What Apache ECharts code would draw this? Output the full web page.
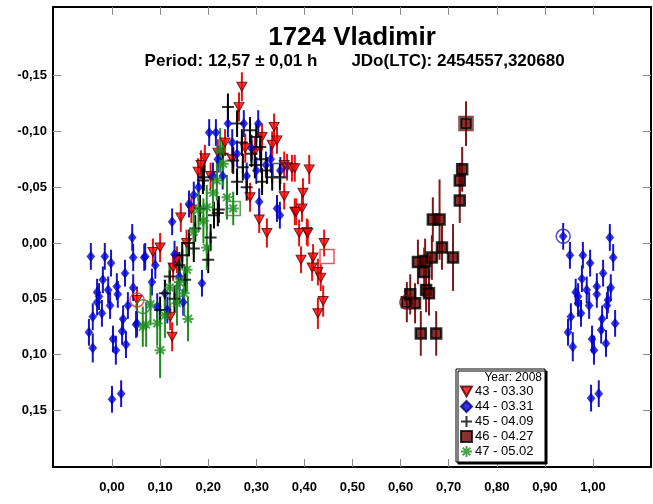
<!DOCTYPE html>
<html>
<head>
<meta charset="utf-8">
<script src="https://cdn.jsdelivr.net/npm/echarts@6/dist/echarts.min.js"></script>
<style>
  html, body { margin: 0; background: #fff; }
  #chart { width: 653px; height: 504px; }
</style>
</head>
<body>
<div id="chart"></div>
<script>
// tick labels
const xTicks = [0, 0.1, 0.2, 0.3, 0.4, 0.5, 0.6, 0.7, 0.8, 0.9, 1.0]
const yTicks = [-0.15, -0.10, -0.05, 0, 0.05, 0.10, 0.15]

// [phase, mag, error]
const s43 = [ // 03.30, red
  [0.052, 0.051, 0.012], [0.085, 0.008, 0.012], [0.100, 0.004, 0.013], [0.121, 0.066, 0.012],
  [0.125, 0.084, 0.013], [0.127, 0.022, 0.012], [0.135, 0.015, 0.012], [0.143, -0.023, 0.013],
  [0.155, 0.000, 0.012], [0.165, -0.030, 0.012], [0.179, -0.064, 0.012], [0.185, -0.070, 0.013],
  [0.193, -0.076, 0.012], [0.205, -0.060, 0.012], [0.220, -0.081, 0.012], [0.235, -0.090, 0.012],
  [0.250, -0.075, 0.012], [0.264, -0.122, 0.013], [0.270, -0.140, 0.013], [0.277, -0.085, 0.013],
  [0.287, -0.041, 0.013], [0.297, -0.082, 0.012], [0.306, -0.021, 0.012], [0.312, -0.095, 0.012],
  [0.322, -0.009, 0.013], [0.333, -0.088, 0.012], [0.337, -0.104, 0.012], [0.343, -0.092, 0.012],
  [0.358, -0.042, 0.012], [0.358, -0.070, 0.012], [0.364, -0.068, 0.012], [0.374, -0.067, 0.012],
  [0.380, -0.067, 0.012], [0.380, -0.028, 0.012], [0.383, -0.028, 0.012], [0.389, -0.009, 0.012],
  [0.393, 0.015, 0.012], [0.395, -0.031, 0.012], [0.397, -0.045, 0.013], [0.405, -0.010, 0.012],
  [0.407, -0.009, 0.012], [0.410, -0.066, 0.013], [0.416, 0.022, 0.012], [0.418, 0.013, 0.012],
  [0.428, 0.026, 0.012], [0.434, 0.031, 0.012], [0.428, 0.063, 0.014], [0.439, 0.052, 0.014],
  [0.441, 0.000, 0.012]
]
const s44 = [ // 03.31, blue
  [-0.048, 0.080, 0.012], [-0.044, 0.012, 0.012], [-0.040, 0.066, 0.012], [-0.040, 0.094, 0.013],
  [-0.031, 0.044, 0.012], [-0.031, 0.053, 0.012], [-0.027, 0.048, 0.012], [-0.021, 0.063, 0.012],
  [-0.019, 0.033, 0.012], [-0.015, 0.012, 0.012], [-0.008, 0.042, 0.012], [-0.004, 0.056, 0.012],
  [-0.002, 0.018, 0.012], [0.000, 0.140, 0.012], [0.002, 0.086, 0.012], [0.008, 0.096, 0.013],
  [0.010, 0.039, 0.012], [0.012, 0.046, 0.012], [0.019, 0.135, 0.012], [0.021, 0.079, 0.012],
  [0.023, 0.068, 0.012], [0.027, 0.027, 0.012], [0.029, 0.091, 0.012], [0.033, 0.056, 0.012],
  [0.042, -0.005, 0.012], [0.044, 0.013, 0.012], [0.044, 0.040, 0.012], [0.050, 0.073, 0.012],
  [0.052, 0.072, 0.012], [0.067, 0.013, 0.012], [0.069, 0.012, 0.012], [0.083, 0.035, 0.012],
  [0.090, 0.020, 0.012], [0.094, 0.057, 0.012], [0.110, 0.045, 0.012], [0.115, 0.060, 0.012],
  [0.125, -0.019, 0.012], [0.130, 0.010, 0.012], [0.140, 0.030, 0.012], [0.148, 0.053, 0.012],
  [0.160, -0.035, 0.012], [0.170, -0.043, 0.012], [0.180, -0.050, 0.012], [0.187, 0.036, 0.012],
  [0.202, -0.099, 0.012], [0.210, -0.060, 0.012], [0.216, -0.099, 0.012], [0.220, -0.075, 0.012],
  [0.230, -0.060, 0.012], [0.241, -0.107, 0.012], [0.250, -0.090, 0.012], [0.260, -0.080, 0.012],
  [0.274, -0.107, 0.012], [0.280, -0.060, 0.012], [0.290, -0.085, 0.012], [0.300, -0.065, 0.012],
  [0.304, -0.107, 0.012], [0.306, -0.037, 0.012], [0.320, -0.070, 0.012], [0.330, -0.075, 0.012],
  [0.343, -0.031, 0.012], [0.349, -0.025, 0.012], [0.350, -0.065, 0.012],
  [0.938, -0.006, 0.012], [0.948, 0.080, 0.012], [0.952, 0.011, 0.012], [0.954, 0.066, 0.012],
  [0.958, 0.093, 0.013], [0.964, 0.044, 0.012], [0.969, 0.048, 0.012], [0.969, 0.054, 0.012],
  [0.975, 0.063, 0.012], [0.977, 0.032, 0.012], [0.979, 0.011, 0.012], [0.987, 0.042, 0.012],
  [0.992, 0.056, 0.012], [0.994, 0.018, 0.012], [0.996, 0.139, 0.012], [0.998, 0.086, 0.012],
  [1.002, 0.096, 0.013], [1.008, 0.039, 0.012], [1.008, 0.046, 0.012], [1.012, 0.135, 0.012],
  [1.017, 0.078, 0.012], [1.019, 0.068, 0.012], [1.021, 0.027, 0.012], [1.027, 0.090, 0.012],
  [1.029, 0.056, 0.012], [1.031, 0.051, 0.012], [1.035, -0.005, 0.012], [1.037, 0.040, 0.012],
  [1.042, 0.013, 0.012], [1.046, 0.072, 0.012]
]
const s45 = [ // 04.09, black
  [0.100, 0.060, 0.012], [0.110, 0.045, 0.012], [0.120, 0.030, 0.012], [0.130, 0.050, 0.012],
  [0.140, 0.020, 0.012], [0.146, 0.011, 0.012], [0.152, 0.033, 0.012], [0.160, 0.000, 0.012],
  [0.170, 0.005, 0.012], [0.173, -0.013, 0.012], [0.183, -0.031, 0.012], [0.189, -0.056, 0.012],
  [0.191, -0.059, 0.012], [0.200, 0.015, 0.012], [0.205, -0.005, 0.012], [0.212, -0.025, 0.012],
  [0.220, -0.027, 0.012], [0.222, -0.030, 0.012], [0.230, -0.080, 0.012], [0.241, -0.122, 0.012],
  [0.252, -0.074, 0.012], [0.260, -0.107, 0.012], [0.260, -0.055, 0.012], [0.270, -0.090, 0.012],
  [0.272, -0.068, 0.012], [0.280, -0.050, 0.012], [0.287, -0.101, 0.012], [0.290, -0.080, 0.012],
  [0.297, -0.070, 0.012], [0.300, -0.095, 0.012], [0.308, -0.086, 0.012], [0.310, -0.075, 0.012],
  [0.312, -0.055, 0.012], [0.322, -0.065, 0.012], [0.333, -0.059, 0.012], [0.349, -0.059, 0.012]
]
const s46 = [ // 04.27, dark red
  [0.613, 0.053, 0.018], [0.620, 0.046, 0.018], [0.630, 0.054, 0.018], [0.636, 0.017, 0.020],
  [0.642, 0.081, 0.020], [0.649, 0.026, 0.022], [0.651, 0.016, 0.020], [0.653, 0.042, 0.020],
  [0.659, 0.045, 0.020], [0.665, 0.013, 0.020], [0.667, -0.021, 0.020], [0.674, 0.081, 0.020],
  [0.681, -0.021, 0.036], [0.686, 0.004, 0.020], [0.709, 0.013, 0.030], [0.723, -0.038, 0.020],
  [0.723, -0.056, 0.016], [0.728, -0.066, 0.020], [0.736, -0.107, 0.020]
]
const s47 = [ // 05.02, green
  [0.064, 0.075, 0.018], [0.071, 0.073, 0.020], [0.080, 0.055, 0.018], [0.094, 0.072, 0.020],
  [0.100, 0.096, 0.025], [0.110, 0.065, 0.020], [0.120, 0.040, 0.020], [0.135, 0.054, 0.020],
  [0.140, 0.035, 0.020], [0.150, 0.045, 0.020], [0.156, 0.024, 0.020], [0.158, 0.068, 0.020],
  [0.170, -0.010, 0.020], [0.180, -0.030, 0.020], [0.190, -0.020, 0.020], [0.197, 0.004, 0.020],
  [0.197, -0.032, 0.020], [0.210, -0.045, 0.018], [0.218, -0.056, 0.018], [0.225, -0.083, 0.020],
  [0.231, -0.071, 0.020], [0.239, -0.041, 0.020], [0.252, -0.031, 0.015]
]
// session start / end marks
const startMarks = [[0.052, 0.051], [0.938, -0.006], [0.613, 0.053], [0.064, 0.057]]
const endMarks = [[0.447, 0.012], [0.349, -0.065], [0.736, -0.107], [0.252, -0.031]]
const markColors = ['#e03030', '#2020c0', '#7a1010', '#2a8a2a']

const chart = echarts.init(document.getElementById('chart'))
const font = 'Liberation Sans'
const fmt = v => {
  const s = v.toFixed(2).replace('.', ',')
  return s === '-0,00' ? '0,00' : s
}

const series = []
function addSet(name, data, barColor, sym) {
  series.push({
    type: 'custom',
    name: name + ' err',
    data: data,
    encode: { x: 0, y: 1 },
    silent: true,
    renderItem: function (params, api) {
      const x = api.value(0), y = api.value(1), e = api.value(2)
      const a = api.coord([x, y - e]), b = api.coord([x, y + e])
      return {
        type: 'line',
        shape: { x1: a[0], y1: a[1], x2: b[0], y2: b[1] },
        style: { stroke: barColor, lineWidth: 2 }
      }
    }
  })
  series.push(Object.assign({
    type: 'scatter',
    name: name,
    data: data.map(d => [d[0], d[1]])
  }, sym))
}

addSet('43 - 03.30', s43, '#e81010', {
  symbol: 'path://M0,0L10,0L5,9Z', symbolSize: [10, 9],
  itemStyle: { color: '#ff0000', borderColor: '#500000', borderWidth: 1 }
})
addSet('44 - 03.31', s44, '#1515c8', {
  symbol: 'diamond', symbolSize: [8, 10],
  itemStyle: { color: '#0000e0', borderColor: '#000080', borderWidth: 0.5 }
})
addSet('45 - 04.09', s45, '#000000', {
  symbol: 'path://M0,5H10M5,0V10', symbolSize: 12,
  itemStyle: { color: 'rgba(0,0,0,0)', borderColor: '#000', borderWidth: 2 }
})
addSet('46 - 04.27', s46, '#801818', {
  symbol: 'rect', symbolSize: 10,
  itemStyle: { color: '#6a0000', borderColor: '#000', borderWidth: 2.5 }
})
addSet('47 - 05.02', s47, '#238c23', {
  symbol: 'path://M0,5H10M5,0V10M1.5,1.5L8.5,8.5M8.5,1.5L1.5,8.5', symbolSize: 11,
  itemStyle: { color: 'rgba(0,0,0,0)', borderColor: '#1e8c1e', borderWidth: 2 }
})

series.push({
  type: 'scatter', name: 'start', symbol: 'circle', symbolSize: 14,
  itemStyle: { color: 'rgba(0,0,0,0)', borderWidth: 1.5 },
  data: startMarks.map((d, i) => ({ value: d, itemStyle: { borderColor: markColors[i] } }))
})
series.push({
  type: 'scatter', name: 'end', symbol: 'rect', symbolSize: 14,
  itemStyle: { color: 'rgba(0,0,0,0)', borderWidth: 1.5 },
  data: endMarks.map((d, i) => ({ value: d, itemStyle: { borderColor: markColors[i] } }))
})

const axisLine = { show: true, onZero: false, lineStyle: { color: '#000', width: 2 } }
const tickStyle = { color: '#8c8c8c', width: 1 }

chart.setOption({
  animation: false,
  backgroundColor: '#fff',
  grid: { left: 53, right: 2, top: 7, bottom: 37 },
  xAxis: [{
    type: 'value', min: -0.1227, max: 1.1206, position: 'bottom',
    axisLine: axisLine,
    axisTick: { inside: true, length: 8, customValues: xTicks, lineStyle: tickStyle },
    axisLabel: { customValues: xTicks, formatter: fmt, color: '#000', fontFamily: font, fontWeight: 'bold', fontSize: 13, margin: 14 },
    splitLine: { show: false }
  }, {
    type: 'value', min: -0.1227, max: 1.1206, position: 'top',
    axisLine: axisLine,
    axisTick: { inside: true, length: 8, customValues: xTicks, lineStyle: tickStyle },
    axisLabel: { show: false },
    splitLine: { show: false }
  }],
  yAxis: [{
    type: 'value', min: -0.2115, max: 0.2007, inverse: true, position: 'left',
    axisLine: axisLine,
    axisTick: { inside: true, length: 8, customValues: yTicks, lineStyle: tickStyle },
    axisLabel: { customValues: yTicks, formatter: fmt, color: '#000', fontFamily: font, fontWeight: 'bold', fontSize: 13, margin: 6 },
    splitLine: { show: false }
  }, {
    type: 'value', min: -0.2115, max: 0.2007, inverse: true, position: 'right',
    axisLine: axisLine,
    axisTick: { inside: true, length: 8, customValues: yTicks, lineStyle: tickStyle },
    axisLabel: { show: false },
    splitLine: { show: false }
  }],
  legend: {
    data: ['43 - 03.30', '44 - 03.31', '45 - 04.09', '46 - 04.27', '47 - 05.02'],
    orient: 'vertical', left: 460, top: 385, padding: 0,
    itemWidth: 11, itemHeight: 11, itemGap: 2,
    textStyle: { fontFamily: font, fontSize: 13, color: '#000', padding: [0, 0, 0, -2] },
    selectedMode: false, z: 20
  },
  graphic: [
    { type: 'rect', z: 10, shape: { x: 456, y: 369, width: 89, height: 93 },
      style: { fill: '#fff', stroke: '#000', lineWidth: 1, shadowColor: '#000', shadowOffsetX: 2, shadowOffsetY: 2, shadowBlur: 0 } },
    { type: 'text', z: 11, x: 542, y: 378,
      style: { text: 'Year: 2008', textAlign: 'right', textVerticalAlign: 'middle', font: '12px "Liberation Sans"', fill: '#000' } },
    { type: 'text', z: 11, x: 352, y: 38,
      style: { text: '1724 Vladimir', textAlign: 'center', textVerticalAlign: 'middle', font: 'bold 26px "Liberation Sans"', fill: '#000' } },
    { type: 'text', z: 11, x: 231, y: 61,
      style: { text: 'Period: 12,57 ± 0,01 h', textAlign: 'center', textVerticalAlign: 'middle', font: 'bold 17px "Liberation Sans"', fill: '#000' } },
    { type: 'text', z: 11, x: 458, y: 61,
      style: { text: 'JDo(LTC): 2454557,320680', textAlign: 'center', textVerticalAlign: 'middle', font: 'bold 17px "Liberation Sans"', fill: '#000' } }
  ],
  series: series
})
</script>
</body>
</html>
